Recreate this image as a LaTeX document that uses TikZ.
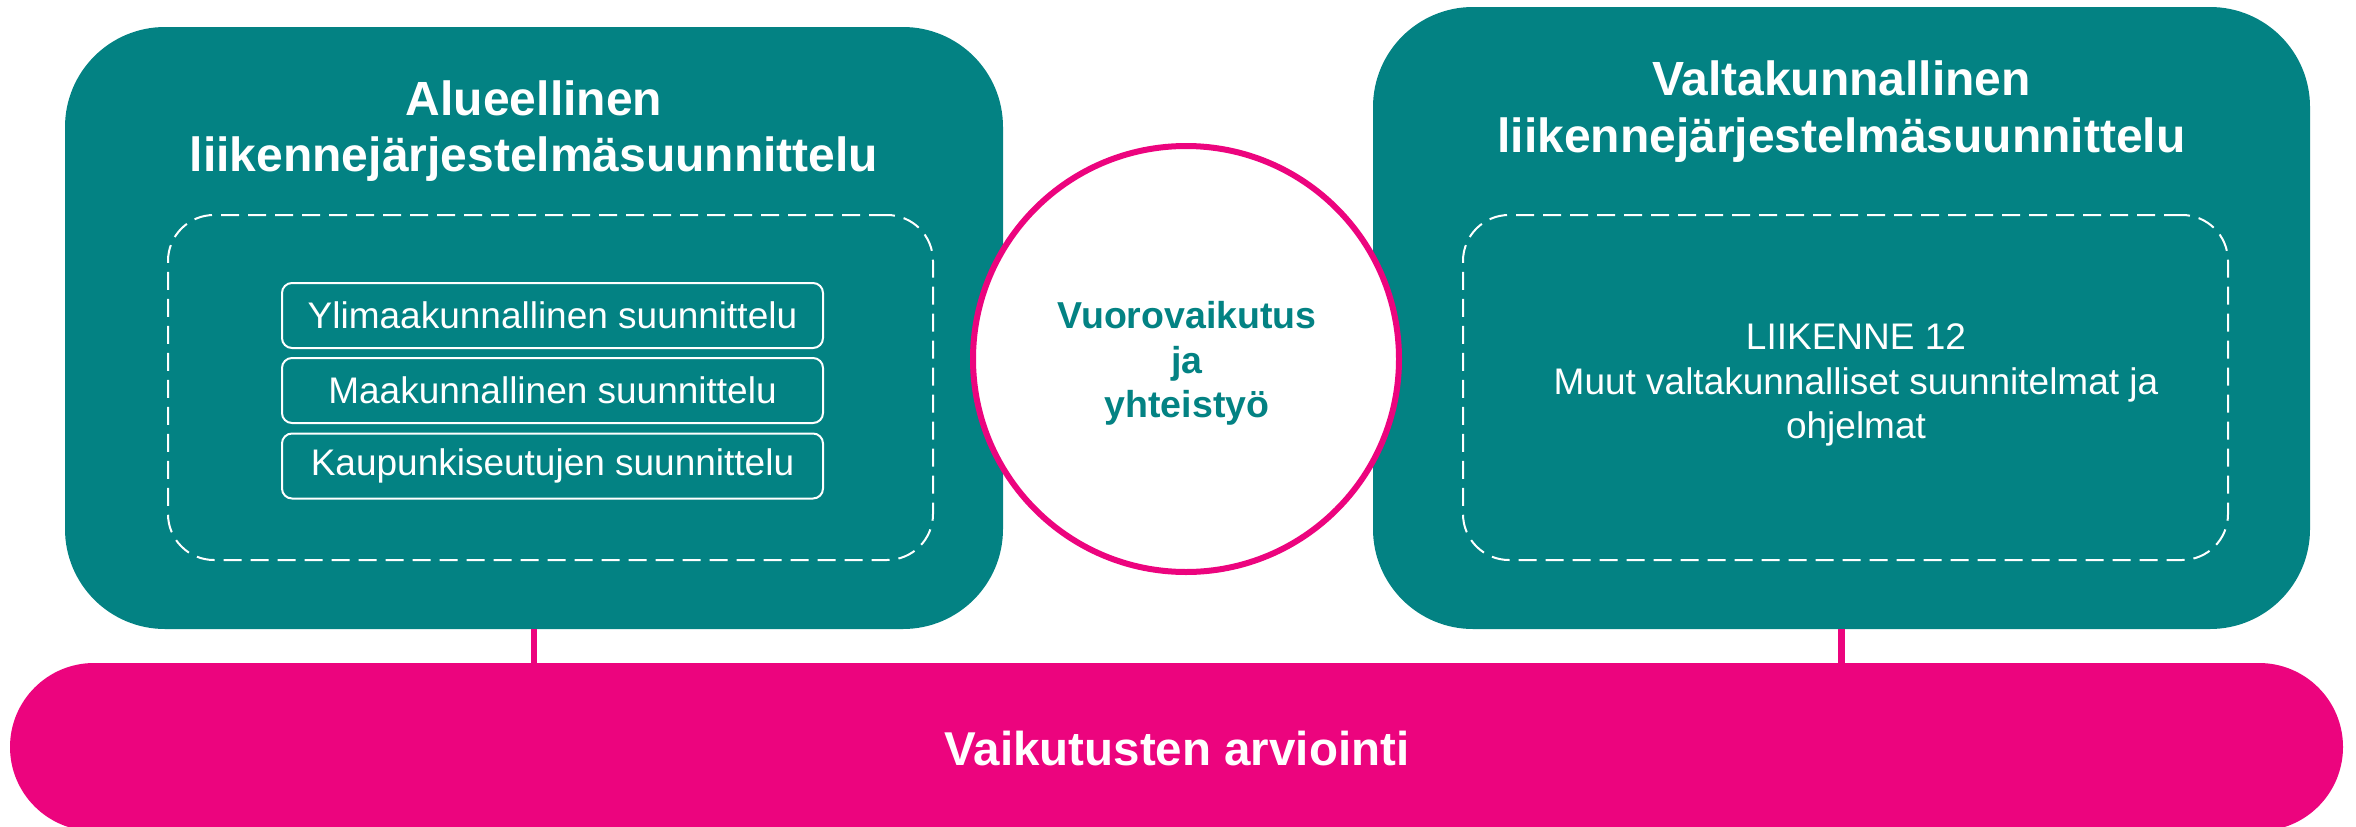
\documentclass[tikz,border=0pt]{standalone}
\usepackage{fontspec}
\setmainfont{Liberation Sans}
\definecolor{tealc}{RGB}{3,130,131}
\definecolor{pinkc}{RGB}{236,4,126}
\tikzset{
  bigbox/.style={rectangle, fill=tealc, draw=none, rounded corners=100pt, inner sep=0pt},
  dashbox/.style={rectangle, draw=white, line width=2pt, dash pattern=on 18pt off 9pt, rounded corners=46pt, inner sep=0pt, minimum width=765pt, minimum height=345pt},
  smallbox/.style={rectangle, draw=white, line width=2pt, rounded corners=10pt, inner sep=0pt, minimum width=541pt, minimum height=65pt,
     text=white, font=\fontsize{37}{44}\selectfont},
  ttl/.style={anchor=base, inner sep=0pt, text=white, font=\fontsize{48}{56}\selectfont\bfseries},
  reg/.style={anchor=base, inner sep=0pt, text=white, font=\fontsize{37}{44}\selectfont},
  ctxt/.style={anchor=base, inner sep=0pt, text=tealc, font=\fontsize{37.5}{44}\selectfont\bfseries},
  link/.style={draw=pinkc, line width=6.5pt}
}
\begin{document}
\begin{tikzpicture}[x=1pt,y=-1pt]
\useasboundingbox (0,0) rectangle (2356,827);
% bottom bar
\node[rectangle, fill=pinkc, rounded corners=84pt, inner sep=0pt, minimum width=2333pt, minimum height=168pt] (bar) at (1176.5,747) {};
\node[anchor=base, inner sep=0pt, text=white, font=\fontsize{47.5}{55}\selectfont\bfseries] (bartxt) at (1177,765) {Vaikutusten arviointi};
% big boxes
\node[bigbox, minimum width=938pt, minimum height=602pt] (left) at (534,328) {};
\node[bigbox, minimum width=937pt, minimum height=622pt] (right) at (1841.5,318) {};
% connectors
\draw[link] (left.south) -- (left.south |- bar.north);
\draw[link] (right.south) -- (right.south |- bar.north);
% titles
\node[ttl] (lt1) at (534,115) {Alueellinen};
\node[ttl] (lt2) at (534,171) {liikennejärjestelmäsuunnittelu};
\node[ttl] (rt1) at (1841.5,95) {Valtakunnallinen};
\node[ttl] (rt2) at (1841.5,152) {liikennejärjestelmäsuunnittelu};
% dashed boxes
\node[dashbox] (ldash) at (550.5,387.5) {};
\node[dashbox] (rdash) at (1845.5,387.5) {};
% small boxes
\node[smallbox] (b1) at (552.5,315.5) {Ylimaakunnallinen suunnittelu};
\node[smallbox] (b2) at (552.5,390.5) {Maakunnallinen suunnittelu};
\node[smallbox] (b3) at (552.5,466) {Kaupunkiseutujen suunnittelu};
% right text
\node[reg] (r1) at (1856,349) {LIIKENNE 12};
\node[reg] (r2) at (1856,394) {Muut valtakunnalliset suunnitelmat ja};
\node[reg] (r3) at (1856,438.5) {ohjelmat};
% circle
\node[circle, fill=white, draw=pinkc, line width=6pt, minimum size=426pt, inner sep=0pt] (circ) at (1186,359) {};
\node[ctxt] (c1) at (1187,328) {Vuorovaikutus};
\node[ctxt] (c2) at (1187,373) {ja};
\node[ctxt] (c3) at (1187,417) {yhteistyö};
\end{tikzpicture}
\end{document}
